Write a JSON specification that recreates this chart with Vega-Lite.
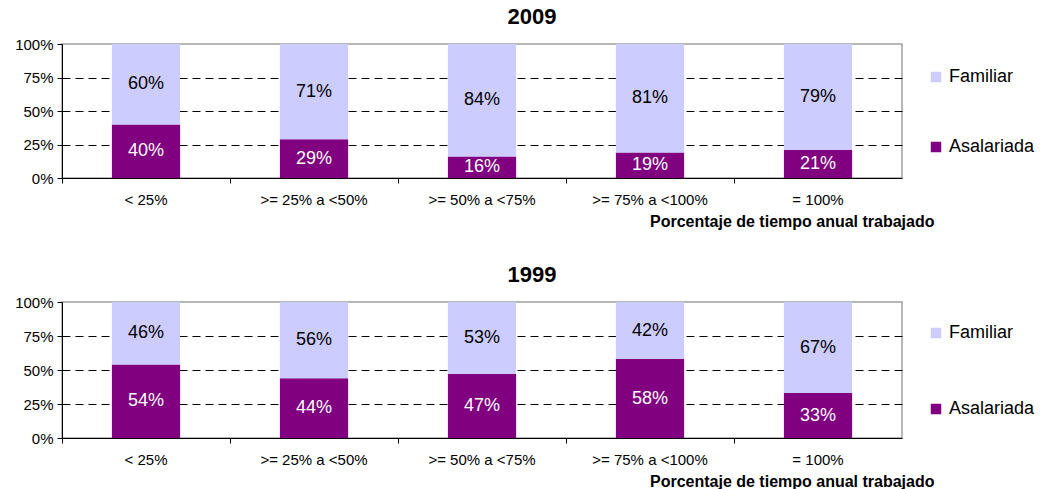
{
  "$schema": "https://vega.github.io/schema/vega-lite/v6.json",
  "padding": {"left": 13, "top": 5, "right": 0, "bottom": 0},
  "background": "white",
  "config": {
    "font": "Liberation Sans",
    "view": {"stroke": "#a0a0a0", "strokeWidth": 1.5},
    "axis": {"labelColor": "black", "titleColor": "black"},
    "axisY": {
      "title": null, "labelOverlap": false,
      "labelFontSize": 15, "labelPadding": 4,
      "tickColor": "black", "tickSize": 5, "domainColor": "black",
      "gridColor": "black", "gridDash": [8, 5]
    }
  },
  "datasets": {
    "d": [
      {"year": "2009", "cat": "< 25%", "series": "Asalariada", "pct": 40},
      {"year": "2009", "cat": "< 25%", "series": "Familiar", "pct": 60},
      {"year": "2009", "cat": ">= 25% a <50%", "series": "Asalariada", "pct": 29},
      {"year": "2009", "cat": ">= 25% a <50%", "series": "Familiar", "pct": 71},
      {"year": "2009", "cat": ">= 50% a <75%", "series": "Asalariada", "pct": 16},
      {"year": "2009", "cat": ">= 50% a <75%", "series": "Familiar", "pct": 84},
      {"year": "2009", "cat": ">= 75% a <100%", "series": "Asalariada", "pct": 19},
      {"year": "2009", "cat": ">= 75% a <100%", "series": "Familiar", "pct": 81},
      {"year": "2009", "cat": "= 100%", "series": "Asalariada", "pct": 21},
      {"year": "2009", "cat": "= 100%", "series": "Familiar", "pct": 79},
      {"year": "1999", "cat": "< 25%", "series": "Asalariada", "pct": 54},
      {"year": "1999", "cat": "< 25%", "series": "Familiar", "pct": 46},
      {"year": "1999", "cat": ">= 25% a <50%", "series": "Asalariada", "pct": 44},
      {"year": "1999", "cat": ">= 25% a <50%", "series": "Familiar", "pct": 56},
      {"year": "1999", "cat": ">= 50% a <75%", "series": "Asalariada", "pct": 47},
      {"year": "1999", "cat": ">= 50% a <75%", "series": "Familiar", "pct": 53},
      {"year": "1999", "cat": ">= 75% a <100%", "series": "Asalariada", "pct": 58},
      {"year": "1999", "cat": ">= 75% a <100%", "series": "Familiar", "pct": 42},
      {"year": "1999", "cat": "= 100%", "series": "Asalariada", "pct": 33},
      {"year": "1999", "cat": "= 100%", "series": "Familiar", "pct": 67}
    ]
  },
  "spacing": 33,
  "resolve": {"scale": {"color": "independent"}, "legend": {"color": "independent"}},
  "vconcat": [
    {
      "title": {"text": "2009", "fontSize": 22, "fontWeight": "bold", "dx": 50, "offset": 8, "color": "black"},
      "width": 840,
      "height": 134,
      "data": {"name": "d"},
      "transform": [
        {"filter": "datum.year == '2009'"},
        {"stack": "pct", "groupby": ["cat"], "sort": [{"field": "series", "order": "ascending"}], "as": ["y0", "y1"]},
        {"calculate": "(datum.y0 + datum.y1) / 2", "as": "mid"},
        {"calculate": "datum.pct + '%'", "as": "label"}
      ],
      "encoding": {
        "x": {
          "field": "cat", "type": "nominal",
          "sort": ["< 25%", ">= 25% a <50%", ">= 50% a <75%", ">= 75% a <100%", "= 100%"],
          "scale": {"paddingInner": 0, "paddingOuter": 0},
          "axis": {
            "title": "Porcentaje de tiempo anual trabajado",
            "titleFontWeight": "bold", "titleFontSize": 16,
            "titleX": 872, "titleY": 35, "titleAlign": "right",
            "labelAngle": 0, "labelFontSize": 15, "labelPadding": 9,
            "tickColor": "black", "tickSize": 5, "domainColor": "black",
            "bandPosition": 0
          }
        }
      },
      "layer": [
        {
          "mark": {"type": "bar", "width": {"band": 0.406}},
          "encoding": {
            "y": {"field": "y0", "type": "quantitative", "scale": {"domain": [0, 100]},
              "axis": {"values": [0, 25, 50, 75, 100], "labelExpr": "datum.value + '%'",
                "gridOpacity": {"condition": {"test": "datum.value >= 100 || datum.value <= 0", "value": 0}, "value": 1}}
            },
            "y2": {"field": "y1"},
            "color": {
              "field": "series", "type": "nominal",
              "scale": {"domain": ["Familiar", "Asalariada"], "range": ["#CCCCFF", "#800080"]},
              "legend": {"title": null, "orient": "none", "legendX": 865, "legendY": 24,
                "symbolType": "square", "symbolSize": 110, "symbolStrokeWidth": 0,
                "labelFontSize": 18, "labelColor": "black", "rowPadding": 52, "labelOffset": 4}
            }
          }
        },
        {
          "mark": {"type": "text", "fontSize": 18, "baseline": "middle"},
          "encoding": {
            "y": {"field": "mid", "type": "quantitative",
              "axis": {"values": [0, 25, 50, 75, 100], "labelExpr": "datum.value + '%'",
                "gridOpacity": {"condition": {"test": "datum.value >= 100 || datum.value <= 0", "value": 0}, "value": 1}}
            },
            "text": {"field": "label"},
            "color": {"condition": {"test": "datum.series == 'Asalariada'", "value": "white"}, "value": "black"}
          }
        }
      ]
    },
    {
      "title": {"text": "1999", "fontSize": 22, "fontWeight": "bold", "dx": 50, "offset": 8, "color": "black"},
      "width": 840,
      "height": 136,
      "data": {"name": "d"},
      "transform": [
        {"filter": "datum.year == '1999'"},
        {"stack": "pct", "groupby": ["cat"], "sort": [{"field": "series", "order": "ascending"}], "as": ["y0", "y1"]},
        {"calculate": "(datum.y0 + datum.y1) / 2", "as": "mid"},
        {"calculate": "datum.pct + '%'", "as": "label"}
      ],
      "encoding": {
        "x": {
          "field": "cat", "type": "nominal",
          "sort": ["< 25%", ">= 25% a <50%", ">= 50% a <75%", ">= 75% a <100%", "= 100%"],
          "scale": {"paddingInner": 0, "paddingOuter": 0},
          "axis": {
            "title": "Porcentaje de tiempo anual trabajado",
            "titleFontWeight": "bold", "titleFontSize": 16,
            "titleX": 872, "titleY": 35, "titleAlign": "right",
            "labelAngle": 0, "labelFontSize": 15, "labelPadding": 9,
            "tickColor": "black", "tickSize": 5, "domainColor": "black",
            "bandPosition": 0
          }
        }
      },
      "layer": [
        {
          "mark": {"type": "bar", "width": {"band": 0.406}},
          "encoding": {
            "y": {"field": "y0", "type": "quantitative", "scale": {"domain": [0, 100]},
              "axis": {"values": [0, 25, 50, 75, 100], "labelExpr": "datum.value + '%'",
                "gridOpacity": {"condition": {"test": "datum.value >= 100 || datum.value <= 0", "value": 0}, "value": 1}}
            },
            "y2": {"field": "y1"},
            "color": {
              "field": "series", "type": "nominal",
              "scale": {"domain": ["Familiar", "Asalariada"], "range": ["#CCCCFF", "#800080"]},
              "legend": {"title": null, "orient": "none", "legendX": 865, "legendY": 22,
                "symbolType": "square", "symbolSize": 110, "symbolStrokeWidth": 0,
                "labelFontSize": 18, "labelColor": "black", "rowPadding": 58, "labelOffset": 4}
            }
          }
        },
        {
          "mark": {"type": "text", "fontSize": 18, "baseline": "middle"},
          "encoding": {
            "y": {"field": "mid", "type": "quantitative",
              "axis": {"values": [0, 25, 50, 75, 100], "labelExpr": "datum.value + '%'",
                "gridOpacity": {"condition": {"test": "datum.value >= 100 || datum.value <= 0", "value": 0}, "value": 1}}
            },
            "text": {"field": "label"},
            "color": {"condition": {"test": "datum.series == 'Asalariada'", "value": "white"}, "value": "black"}
          }
        }
      ]
    }
  ]
}
